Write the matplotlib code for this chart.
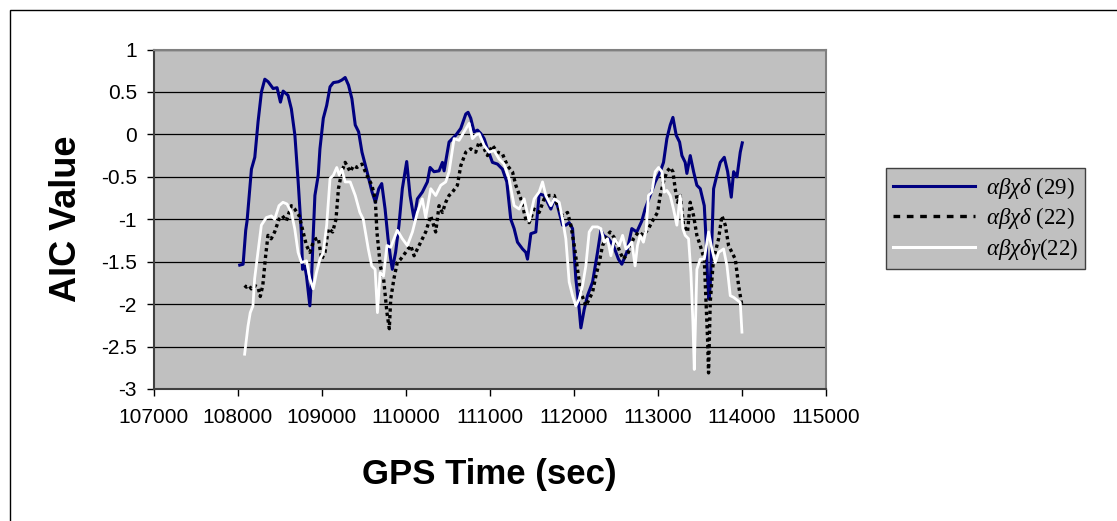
import matplotlib
matplotlib.use("Agg")
import matplotlib.pyplot as plt
from matplotlib.lines import Line2D
from matplotlib.patches import Rectangle

# GPS time (sec) and AIC values per model
t_29 = [108026, 108066, 108097, 108113, 108165, 108205, 108244, 108284, 108324, 108364,
        108423, 108470, 108510, 108542, 108600, 108640, 108682, 108721, 108761, 108773,
        108800, 108820, 108860, 108880, 108900, 108920, 108960, 108980, 109020, 109060,
        109100, 109140, 109200, 109240, 109280, 109320, 109360, 109400, 109440, 109480,
        109540, 109600, 109640, 109680, 109715, 109755, 109790, 109822, 109841, 109880,
        109920, 109960, 110012, 110052, 110100, 110139, 110198, 110258, 110290, 110337,
        110397, 110437, 110457, 110516, 110556, 110596, 110655, 110715, 110742, 110774,
        110814, 110854, 110893, 110933, 110973, 111032, 111092, 111151, 111203, 111250,
        111290, 111330, 111390, 111429, 111449, 111489, 111548, 111588, 111647, 111687,
        111727, 111767, 111806, 111866, 111905, 111945, 111985, 112024, 112064, 112084,
        112124, 112163, 112223, 112282, 112322, 112353, 112412, 112471, 112531, 112571,
        112630, 112690, 112749, 112809, 112848, 112908, 112968, 113028, 113067, 113107,
        113147, 113179, 113218, 113258, 113286, 113325, 113345, 113385, 113425, 113464,
        113504, 113552, 113575, 113591, 113607, 113623, 113643, 113663, 113702, 113742,
        113790, 113830, 113873, 113901, 113941, 113980, 114004]
aic_29 = [-1.54, -1.53, -1.13, -1.02, -0.41, -0.27, 0.15, 0.50, 0.65, 0.62,
          0.54, 0.55, 0.38, 0.51, 0.46, 0.30, -0.01, -0.56, -1.19, -1.59,
          -1.55, -1.67, -2.02, -1.70, -1.19, -0.72, -0.48, -0.17, 0.19, 0.34,
          0.56, 0.61, 0.62, 0.64, 0.67, 0.58, 0.42, 0.11, 0.03, -0.21,
          -0.44, -0.68, -0.80, -0.64, -0.58, -0.88, -1.23, -1.47, -1.59, -1.39,
          -1.07, -0.64, -0.32, -0.72, -1.00, -0.76, -0.68, -0.56, -0.39, -0.44,
          -0.43, -0.33, -0.43, -0.09, -0.05, -0.01, 0.07, 0.24, 0.26, 0.19,
          0.03, 0.05, 0.01, -0.05, -0.17, -0.33, -0.35, -0.41, -0.56, -1.00,
          -1.11, -1.27, -1.35, -1.39, -1.47, -1.17, -1.15, -0.70, -0.72, -0.80,
          -0.88, -0.76, -0.84, -1.07, -1.07, -1.04, -1.11, -1.70, -2.06, -2.28,
          -2.06, -1.90, -1.74, -1.39, -1.13, -1.19, -1.23, -1.31, -1.47, -1.53,
          -1.39, -1.11, -1.15, -1.02, -0.88, -0.72, -0.56, -0.44, -0.33, -0.05,
          0.11, 0.20, -0.01, -0.09, -0.25, -0.33, -0.46, -0.25, -0.44, -0.60,
          -0.64, -0.84, -1.27, -1.70, -1.94, -1.78, -1.23, -0.64, -0.48, -0.33,
          -0.27, -0.44, -0.74, -0.44, -0.50, -0.21, -0.10]

t_22 = [108084, 108104, 108135, 108163, 108203, 108243, 108270, 108300, 108334, 108362,
        108400, 108441, 108493, 108533, 108580, 108640, 108680, 108733, 108780, 108820,
        108860, 108900, 108932, 108960, 109000, 109040, 109080, 109131, 109171, 109200,
        109240, 109280, 109340, 109379, 109420, 109480, 109538, 109598, 109638, 109658,
        109698, 109737, 109777, 109805, 109822, 109860, 109900, 109940, 110000, 110060,
        110100, 110159, 110198, 110238, 110298, 110357, 110397, 110437, 110476, 110516,
        110556, 110615, 110655, 110715, 110774, 110833, 110873, 110933, 110973, 111032,
        111092, 111151, 111211, 111270, 111310, 111370, 111429, 111469, 111528, 111588,
        111647, 111707, 111767, 111806, 111866, 111925, 111965, 112005, 112044, 112084,
        112143, 112183, 112223, 112262, 112302, 112342, 112401, 112431, 112491, 112550,
        112590, 112650, 112709, 112769, 112828, 112888, 112948, 112996, 113028, 113067,
        113107, 113147, 113179, 113206, 113234, 113266, 113306, 113353, 113385, 113425,
        113464, 113504, 113552, 113575, 113591, 113603, 113623, 113655, 113683, 113722,
        113762, 113802, 113841, 113881, 113921, 113960, 114000]
aic_22 = [-1.78, -1.80, -1.78, -1.82, -1.78, -1.80, -1.91, -1.78, -1.43, -1.19,
          -1.23, -1.15, -1.00, -0.96, -1.02, -0.84, -0.88, -0.96, -1.15, -1.31,
          -1.39, -1.27, -1.23, -1.22, -1.47, -1.39, -1.11, -1.15, -1.00, -0.64,
          -0.44, -0.33, -0.44, -0.37, -0.39, -0.35, -0.48, -0.60, -0.76, -1.15,
          -1.55, -1.70, -2.10, -2.29, -1.94, -1.70, -1.51, -1.47, -1.39, -1.31,
          -1.43, -1.31, -1.23, -1.15, -0.96, -1.15, -0.84, -0.92, -0.80, -0.72,
          -0.68, -0.60, -0.37, -0.21, -0.17, -0.21, -0.09, -0.17, -0.25, -0.13,
          -0.21, -0.23, -0.37, -0.44, -0.60, -0.76, -1.00, -1.04, -0.88, -0.92,
          -0.76, -0.72, -0.72, -0.84, -0.96, -0.92, -1.07, -1.31, -1.59, -1.86,
          -2.02, -1.94, -1.86, -1.67, -1.51, -1.31, -1.19, -1.15, -1.23, -1.39,
          -1.47, -1.39, -1.23, -1.15, -1.19, -1.11, -1.00, -0.92, -0.72, -0.56,
          -0.44, -0.39, -0.44, -0.64, -0.80, -0.72, -1.07, -1.15, -0.80, -0.96,
          -1.19, -1.31, -1.47, -2.02, -2.41, -2.81, -1.98, -1.55, -1.39, -1.23,
          -0.96, -1.07, -1.31, -1.39, -1.47, -1.78, -2.02]

t_22g = [108084, 108124, 108151, 108183, 108203, 108243, 108283, 108342, 108402, 108441,
         108493, 108540, 108588, 108640, 108680, 108720, 108760, 108820, 108860, 108900,
         108938, 108980, 109020, 109060, 109100, 109140, 109180, 109210, 109240, 109280,
         109340, 109400, 109455, 109495, 109555, 109596, 109636, 109664, 109696, 109736,
         109777, 109822, 109900, 109960, 110020, 110080, 110139, 110198, 110238, 110298,
         110357, 110417, 110476, 110516, 110576, 110635, 110695, 110754, 110794, 110833,
         110873, 110933, 110992, 111052, 111111, 111171, 111230, 111290, 111350, 111409,
         111469, 111528, 111588, 111628, 111667, 111727, 111767, 111826, 111866, 111905,
         111945, 111985, 112024, 112064, 112104, 112143, 112183, 112223, 112282, 112322,
         112362, 112401, 112441, 112481, 112540, 112580, 112620, 112659, 112690, 112729,
         112757, 112789, 112828, 112860, 112888, 112928, 112968, 113008, 113048, 113075,
         113107, 113147, 113186, 113226, 113266, 113297, 113325, 113365, 113393, 113417,
         113433, 113464, 113504, 113552, 113603, 113643, 113683, 113722, 113782, 113822,
         113861, 113901, 113980, 114000]
aic_22g = [-2.59, -2.26, -2.10, -2.02, -1.70, -1.39, -1.07, -0.98, -0.96, -1.00,
           -0.84, -0.80, -0.82, -0.92, -1.11, -1.39, -1.51, -1.49, -1.70, -1.82,
           -1.63, -1.47, -1.39, -1.07, -0.52, -0.48, -0.39, -0.48, -0.41, -0.56,
           -0.56, -0.72, -0.92, -1.00, -1.35, -1.55, -1.59, -2.10, -1.63, -1.67,
           -1.31, -1.33, -1.13, -1.23, -1.31, -1.15, -0.92, -0.76, -0.98, -0.64,
           -0.72, -0.60, -0.56, -0.44, -0.05, -0.07, 0.03, 0.13, -0.05, -0.01,
           0.01, -0.13, -0.21, -0.19, -0.29, -0.35, -0.52, -0.84, -0.88, -0.76,
           -1.02, -0.76, -0.68, -0.56, -0.72, -0.84, -0.76, -0.80, -1.00, -1.23,
           -1.74, -1.90, -2.02, -1.94, -1.78, -1.55, -1.15, -1.09, -1.09, -1.11,
           -1.27, -1.23, -1.43, -1.23, -1.31, -1.19, -1.35, -1.31, -1.27, -1.55,
           -1.31, -1.19, -1.27, -1.13, -0.72, -0.68, -0.44, -0.39, -0.44, -0.68,
           -0.66, -0.72, -0.88, -1.07, -0.72, -1.11, -1.19, -1.23, -1.63, -2.22,
           -2.77, -1.59, -1.47, -1.47, -1.15, -1.35, -1.51, -1.39, -1.35, -1.55,
           -1.90, -1.92, -1.98, -2.33]

labels = [r"$\alpha\beta\chi\delta$ (29)", r"$\alpha\beta\chi\delta$ (22)",
          r"$\alpha\beta\chi\delta\gamma$(22)"]
x_ticks = [107000, 108000, 109000, 110000, 111000, 112000, 113000, 114000, 115000]
y_ticks = [1, 0.5, 0, -0.5, -1, -1.5, -2, -2.5, -3]

plt.rcParams["font.family"] = ["Liberation Sans", "DejaVu Sans"]
plt.rcParams["mathtext.fontset"] = "custom"
plt.rcParams["mathtext.it"] = "Liberation Serif:italic"
plt.rcParams["mathtext.rm"] = "Liberation Serif"

fig = plt.figure(figsize=(11.17, 5.21), dpi=100)
ax = fig.add_axes([153.5 / 1117, 1 - 389 / 521, (826 - 153.5) / 1117, (389 - 49.5) / 521])
ax.set_facecolor("#c0c0c0")

ax.plot(t_29, aic_29, color="#000080", lw=2.2, zorder=3)
ax.plot(t_22, aic_22, color="black", lw=2.4, dashes=(1.0, 1.0),
        dash_capstyle="butt", zorder=4)
ax.plot(t_22g, aic_22g, color="white", lw=2.0, zorder=5)

ax.set_xlim(107000, 115000)
ax.set_ylim(-3, 1)
ax.set_xticks(x_ticks)
ax.set_yticks(y_ticks)
ax.set_yticklabels([f"{v:g}" for v in y_ticks])
ax.yaxis.grid(True, color="black", lw=0.9)
ax.set_axisbelow(True)
ax.tick_params(direction="out", length=5, width=1, labelsize=15, colors="black")
ax.tick_params(axis="x", pad=9)
ax.tick_params(axis="y", pad=7)

for side in ["left", "bottom"]:
    ax.spines[side].set_color("#404040")
    ax.spines[side].set_linewidth(1.5)
for side in ["top", "right"]:
    ax.spines[side].set_color("#808080")
    ax.spines[side].set_linewidth(1.5)

ax.set_xlabel("GPS Time (sec)", fontsize=25, fontweight="bold", labelpad=22)
ax.set_ylabel("AIC Value", fontsize=26, fontweight="bold", labelpad=12)

handles = [Line2D([], [], color="#000080", lw=2.2),
           Line2D([], [], color="black", lw=2.4, dashes=(2.0, 2.0), dash_capstyle="butt"),
           Line2D([], [], color="white", lw=2.2)]
leg = fig.legend(handles, labels, loc="upper left",
                 bbox_to_anchor=(886 / 1117, 1 - 168 / 521), borderaxespad=0,
                 prop={"family": "Liberation Serif", "size": 16.5},
                 handlelength=3.6, handletextpad=0.45, labelspacing=0.2,
                 borderpad=0.3, fancybox=False, framealpha=1,
                 facecolor="#c0c0c0", edgecolor="#404040")
leg.get_frame().set_linewidth(1.0)

# thin frame around the chart area
fig.patches.append(Rectangle((10 / 1117, -0.1), 1.2, 1.1 - 10 / 521,
                             transform=fig.transFigure, fill=False,
                             edgecolor="black", lw=1.0))

fig.savefig("out.png", dpi=100)
